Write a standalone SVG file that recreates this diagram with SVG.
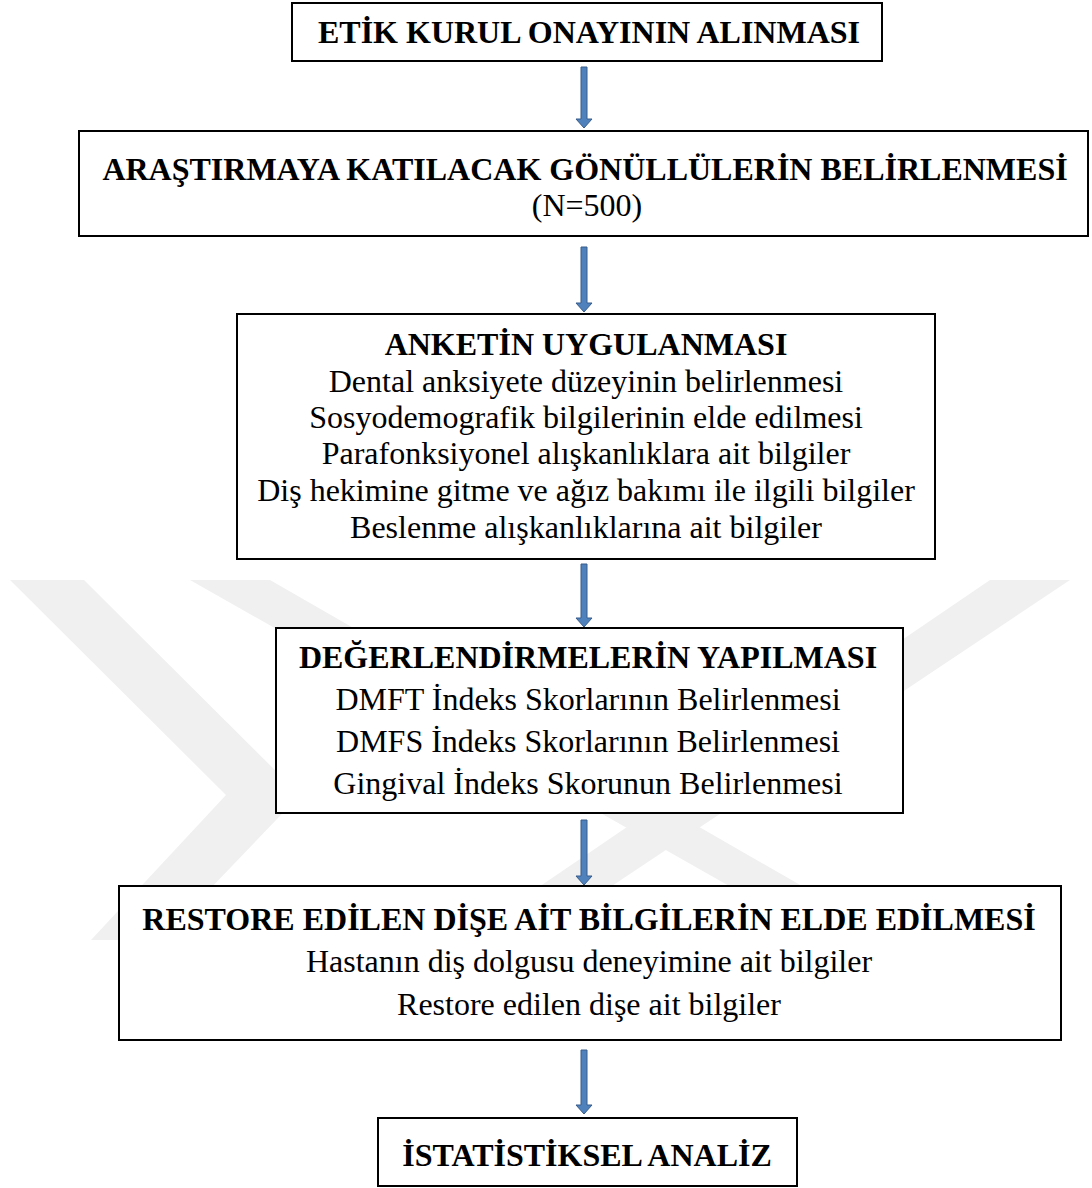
<svg xmlns="http://www.w3.org/2000/svg" width="1092" height="1188" viewBox="0 0 1092 1188">
<defs>
<style>
.box{fill:#ffffff;stroke:#000000;stroke-width:2}
.t{font-size:32px;fill:#000000;text-anchor:middle}
.b{font-weight:bold}
.arrow{fill:#4f81bd;stroke:#385d8a;stroke-width:1}
.wm{fill:#f0f0f0}
</style>
</defs>
<rect x="0" y="0" width="1092" height="1188" fill="#ffffff"/>
<g id="watermark">
<polygon class="wm" points="10,580 84,580 300,795 161,940 91,940 226,795"/>
<polygon class="wm" points="190,580 270,580 1000,1000 930,1000"/>
<polygon class="wm" points="990,580 1070,580 531,940 461,940"/>
</g>
<g id="connectors">
<polygon class="arrow" points="581,67 587,67 587,119 592,119 584,128 576,119 581,119"/>
<polygon class="arrow" points="581,247 587,247 587,303 592,303 584,312 576,303 581,303"/>
<polygon class="arrow" points="581,564 587,564 587,618 592,618 584,627 576,618 581,618"/>
<polygon class="arrow" points="581,820 587,820 587,876 592,876 584,885 576,876 581,876"/>
<polygon class="arrow" points="581,1050 587,1050 587,1105 592,1105 584,1114 576,1105 581,1105"/>
</g>
<g font-family="Liberation Serif, Times New Roman, serif">
<g id="node1">
<rect class="box" x="292" y="3" width="590" height="58"/>
<text class="t b" x="589" y="43">ETİK KURUL ONAYININ ALINMASI</text>
</g>
<g id="node2">
<rect class="box" x="79" y="131" width="1009" height="105"/>
<text class="t b" x="585" y="180">ARAŞTIRMAYA KATILACAK GÖNÜLLÜLERİN BELİRLENMESİ</text>
<text class="t" x="587" y="216">(N=500)</text>
</g>
<g id="node3">
<rect class="box" x="237" y="314" width="698" height="245"/>
<text class="t b" x="586" y="355">ANKETİN UYGULANMASI</text>
<text class="t" x="586" y="392">Dental anksiyete düzeyinin belirlenmesi</text>
<text class="t" x="586" y="428">Sosyodemografik bilgilerinin elde edilmesi</text>
<text class="t" x="586" y="464">Parafonksiyonel alışkanlıklara ait bilgiler</text>
<text class="t" x="586" y="501">Diş hekimine gitme ve ağız bakımı ile ilgili bilgiler</text>
<text class="t" x="586" y="538">Beslenme alışkanlıklarına ait bilgiler</text>
</g>
<g id="node4">
<rect class="box" x="276" y="628" width="627" height="185"/>
<text class="t b" x="588" y="668">DEĞERLENDİRMELERİN YAPILMASI</text>
<text class="t" x="588" y="710">DMFT İndeks Skorlarının Belirlenmesi</text>
<text class="t" x="588" y="752">DMFS İndeks Skorlarının Belirlenmesi</text>
<text class="t" x="588" y="794">Gingival İndeks Skorunun Belirlenmesi</text>
</g>
<g id="node5">
<rect class="box" x="119" y="886" width="942" height="154"/>
<text class="t b" x="589" y="930">RESTORE EDİLEN DİŞE AİT BİLGİLERİN ELDE EDİLMESİ</text>
<text class="t" x="589" y="972">Hastanın diş dolgusu deneyimine ait bilgiler</text>
<text class="t" x="589" y="1015">Restore edilen dişe ait bilgiler</text>
</g>
<g id="node6">
<rect class="box" x="378" y="1118" width="419" height="68"/>
<text class="t b" x="587" y="1166">İSTATİSTİKSEL ANALİZ</text>
</g>
</g>
</svg>
